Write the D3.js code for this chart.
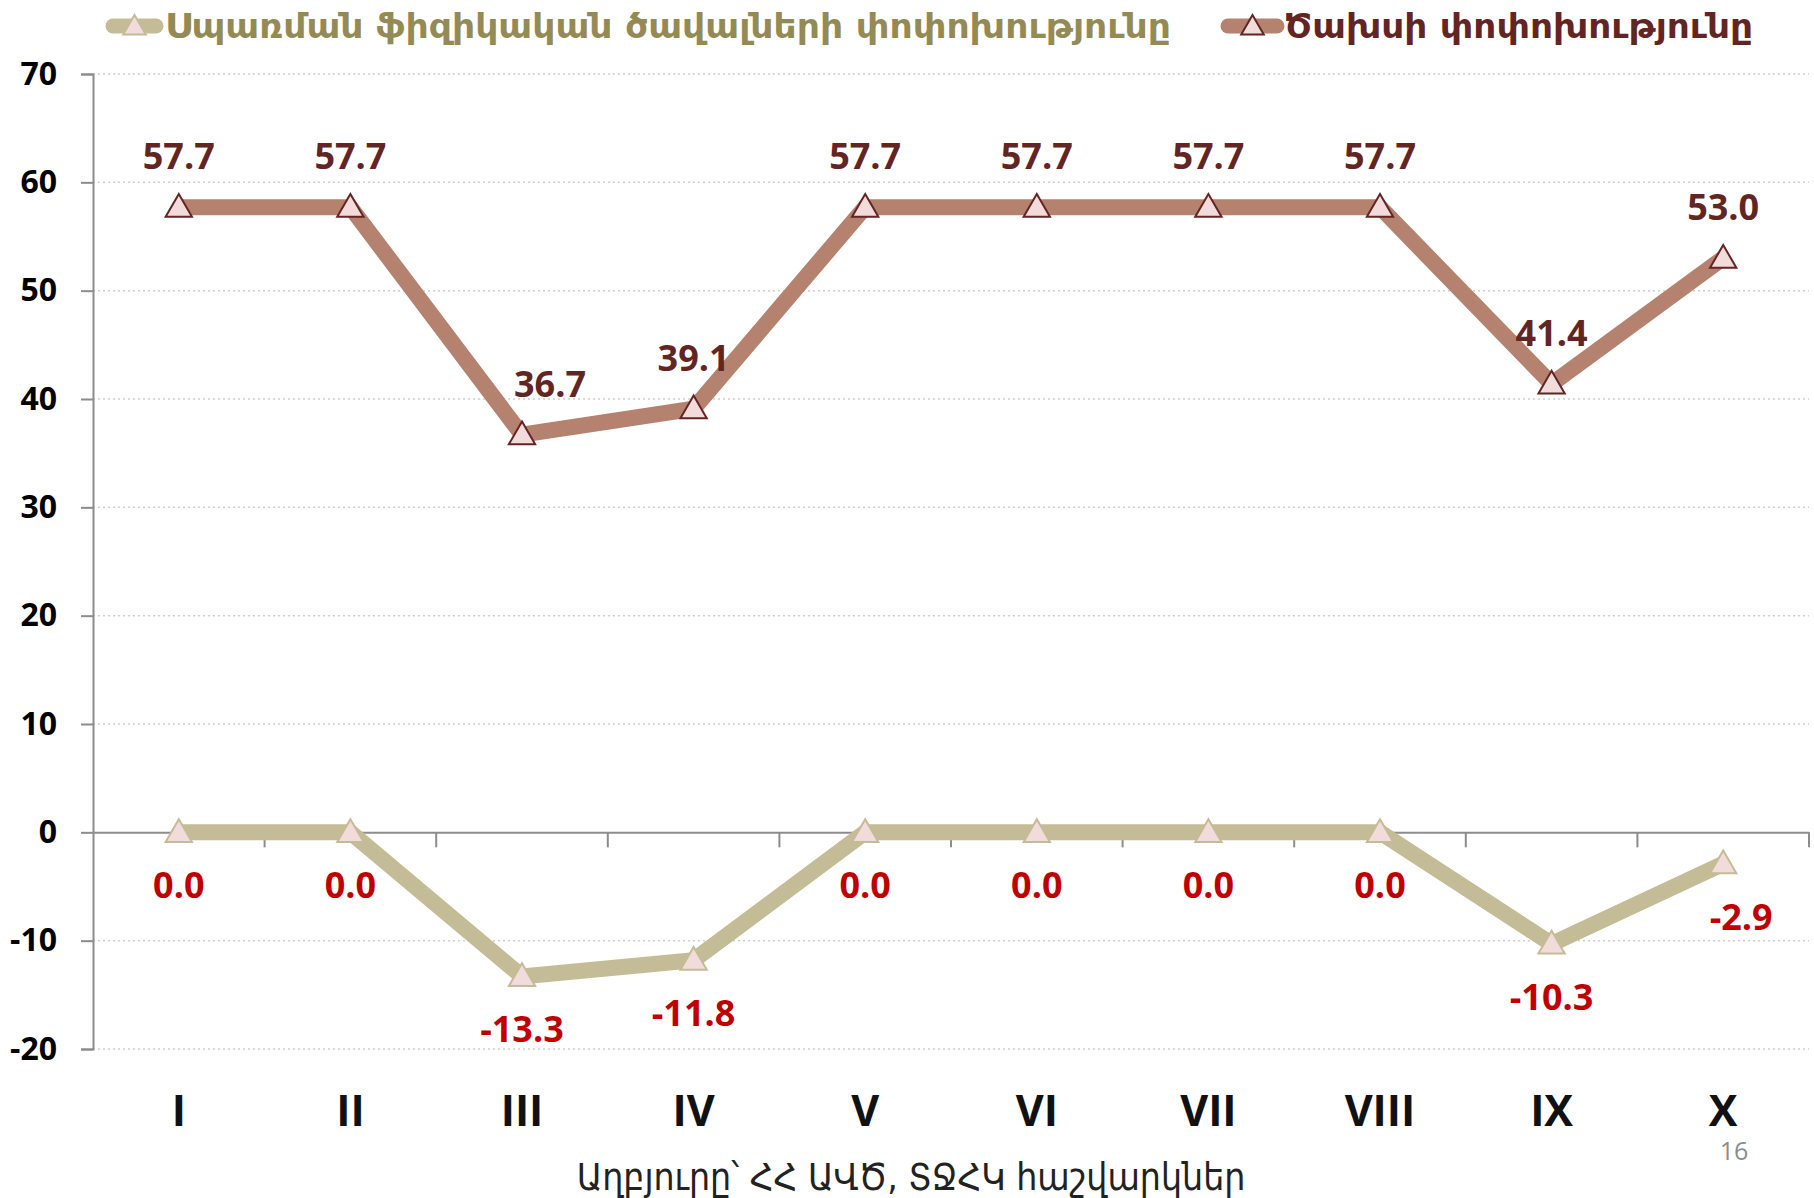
<!DOCTYPE html>
<html>
<head>
<meta charset="utf-8">
<script src="https://cdn.jsdelivr.net/npm/d3@7"></script>
<style>
  body { margin: 0; background: #fff; }
  svg { display: block; }
</style>
</head>
<body>
<div id="chart"></div>
<script>
// Data
const months = ["I", "II", "III", "IV", "V", "VI", "VII", "VIII", "IX", "X"];
const consumptionChange = [0.0, 0.0, -13.3, -11.8, 0.0, 0.0, 0.0, 0.0, -10.3, -2.9];
const costChange = [57.7, 57.7, 36.7, 39.1, 57.7, 57.7, 57.7, 57.7, 41.4, 53.0];
const yTicks = [-20, -10, 0, 10, 20, 30, 40, 50, 60, 70];
const seriesNames = ["Սպառման ֆիզիկական ծավալների փոփոխությունը", "Ծախսի փոփոխությունը"];
const sourceNote = "Աղբյուրը՝ ՀՀ ԱՎԾ, ՏՋՀԿ հաշվարկներ";
const pageNumber = "16";

// Dimensions
const width = 1814;
const height = 1198;
const marginLeft = 93;
const marginRight = 5;
const marginTop = 74;
const marginBottom = 149;

const numFont = "'Open Sans', 'DejaVu Sans', sans-serif";
const armFont = "'DejaVu Sans Condensed', 'DejaVu Sans', sans-serif";

const svg = d3.select("#chart")
  .append("svg")
  .attr("width", width)
  .attr("height", height);

// Scales
const xScale = d3.scaleBand()
  .domain(months)
  .range([marginLeft, width - marginRight])
  .padding(0);

const yScale = d3.scaleLinear()
  .domain([-20, 70])
  .range([height - marginBottom, marginTop]);

const cx = d => xScale(d) + xScale.bandwidth() / 2;

// Gridlines
svg.append("g")
  .selectAll("line")
  .data(yTicks.filter(t => t !== 0))
  .enter()
  .append("line")
  .attr("x1", marginLeft)
  .attr("x2", width - marginRight)
  .attr("y1", d => yScale(d))
  .attr("y2", d => yScale(d))
  .attr("stroke", "#cfcfcf")
  .attr("stroke-width", 1.5)
  .attr("stroke-dasharray", "2,3");

// Y axis
const yAxis = d3.axisLeft(yScale)
  .tickValues(yTicks)
  .tickFormat(d => String(d))
  .tickSize(12)
  .tickPadding(24);
const yG = svg.append("g")
  .attr("transform", `translate(${marginLeft},0)`)
  .call(yAxis);
yG.select(".domain").attr("stroke", "#8c8c8c").attr("stroke-width", 2);
yG.selectAll(".tick line").attr("stroke", "#8c8c8c").attr("stroke-width", 2);
yG.selectAll(".tick text")
  .attr("font-family", numFont)
  .attr("font-weight", "bold")
  .attr("font-size", 32)
  .attr("fill", "#000");

// Zero line with category ticks (x axis)
const xAxis = d3.axisBottom(xScale).tickSize(0).tickFormat("");
const xG = svg.append("g")
  .attr("transform", `translate(0,${yScale(0)})`)
  .call(xAxis);
xG.select(".domain").attr("stroke", "#8c8c8c").attr("stroke-width", 2);
xG.selectAll(".tick").remove();
xG.selectAll(".sep")
  .data(months.slice(1).concat(["end"]))
  .enter()
  .append("line")
  .attr("class", "sep")
  .attr("x1", d => d === "end" ? width - marginRight : xScale(d))
  .attr("x2", d => d === "end" ? width - marginRight : xScale(d))
  .attr("y1", 0)
  .attr("y2", 15)
  .attr("stroke", "#8c8c8c")
  .attr("stroke-width", 2);

// Category labels
svg.append("g")
  .selectAll("text")
  .data(months)
  .enter()
  .append("text")
  .attr("x", d => cx(d))
  .attr("y", 1126)
  .attr("text-anchor", "middle")
  .attr("font-family", numFont)
  .attr("font-weight", "bold")
  .attr("font-size", 43)
  .attr("fill", "#111")
  .text(d => d);

// Lines
const series = [
  { name: seriesNames[0], values: consumptionChange, line: "#c4bc96", stroke: "#c4bc96", text: "#948a54", label: "#c00000", below: true, shift: { 9: 18 } },
  { name: seriesNames[1], values: costChange, line: "#b5826f", stroke: "#632523", text: "#632523", label: "#632523", below: false, shift: { 2: 28 } }
];

const lineGen = d3.line()
  .x((d, i) => cx(months[i]))
  .y(d => yScale(d));

const triangle = d3.symbol().type(d3.symbolTriangle).size(300);

series.forEach(s => {
  svg.append("path")
    .datum(s.values)
    .attr("d", lineGen)
    .attr("fill", "none")
    .attr("stroke", s.line)
    .attr("stroke-width", 16)
    .attr("stroke-linejoin", "miter");

  svg.append("g")
    .selectAll("path")
    .data(s.values)
    .enter()
    .append("path")
    .attr("d", triangle)
    .attr("transform", (d, i) => `translate(${cx(months[i])},${yScale(d) + 2})`)
    .attr("fill", "#f2dcdb")
    .attr("stroke", s.stroke)
    .attr("stroke-width", 2);

  svg.append("g")
    .selectAll("text")
    .data(s.values)
    .enter()
    .append("text")
    .attr("x", (d, i) => cx(months[i]) + (s.shift[i] || 0))
    .attr("y", d => yScale(d) + (s.below ? 66 : -38))
    .attr("text-anchor", "middle")
    .attr("font-family", numFont)
    .attr("font-weight", "bold")
    .attr("font-size", 36)
    .attr("fill", s.label)
    .text(d => d.toFixed(1));
});

// Legend
const legendItems = [
  { s: series[0], x0: 106, x1: 163, tx: 165, tw: 1006 },
  { s: series[1], x0: 1221, x1: 1284, tx: 1284, tw: 469 }
];
const legendY = 26;
legendItems.forEach(item => {
  const g = svg.append("g");
  g.append("line")
    .attr("x1", item.x0 + 7)
    .attr("x2", item.x1 - 7)
    .attr("y1", legendY)
    .attr("y2", legendY)
    .attr("stroke", item.s.line)
    .attr("stroke-width", 15)
    .attr("stroke-linecap", "round");
  g.append("path")
    .attr("d", d3.symbol().type(d3.symbolTriangle).size(220))
    .attr("transform", `translate(${(item.x0 + item.x1) / 2},${legendY + 2})`)
    .attr("fill", "#f2dcdb")
    .attr("stroke", item.s.stroke)
    .attr("stroke-width", 2);
  g.append("text")
    .attr("x", item.tx)
    .attr("y", legendY + 12)
    .attr("font-family", armFont)
    .attr("font-weight", "bold")
    .attr("font-size", 34)
    .attr("fill", item.s.text)
    .attr("textLength", item.tw)
    .attr("lengthAdjust", "spacingAndGlyphs")
    .text(item.s.name);
});

// Source note and page number
svg.append("text")
  .attr("x", 911)
  .attr("y", 1190)
  .attr("text-anchor", "middle")
  .attr("font-family", armFont)
  .attr("font-size", 37)
  .attr("fill", "#222")
  .text(sourceNote);

svg.append("text")
  .attr("x", 1734)
  .attr("y", 1160)
  .attr("text-anchor", "middle")
  .attr("font-family", numFont)
  .attr("font-size", 25)
  .attr("fill", "#8c8c8c")
  .text(pageNumber);
</script>
</body>
</html>
